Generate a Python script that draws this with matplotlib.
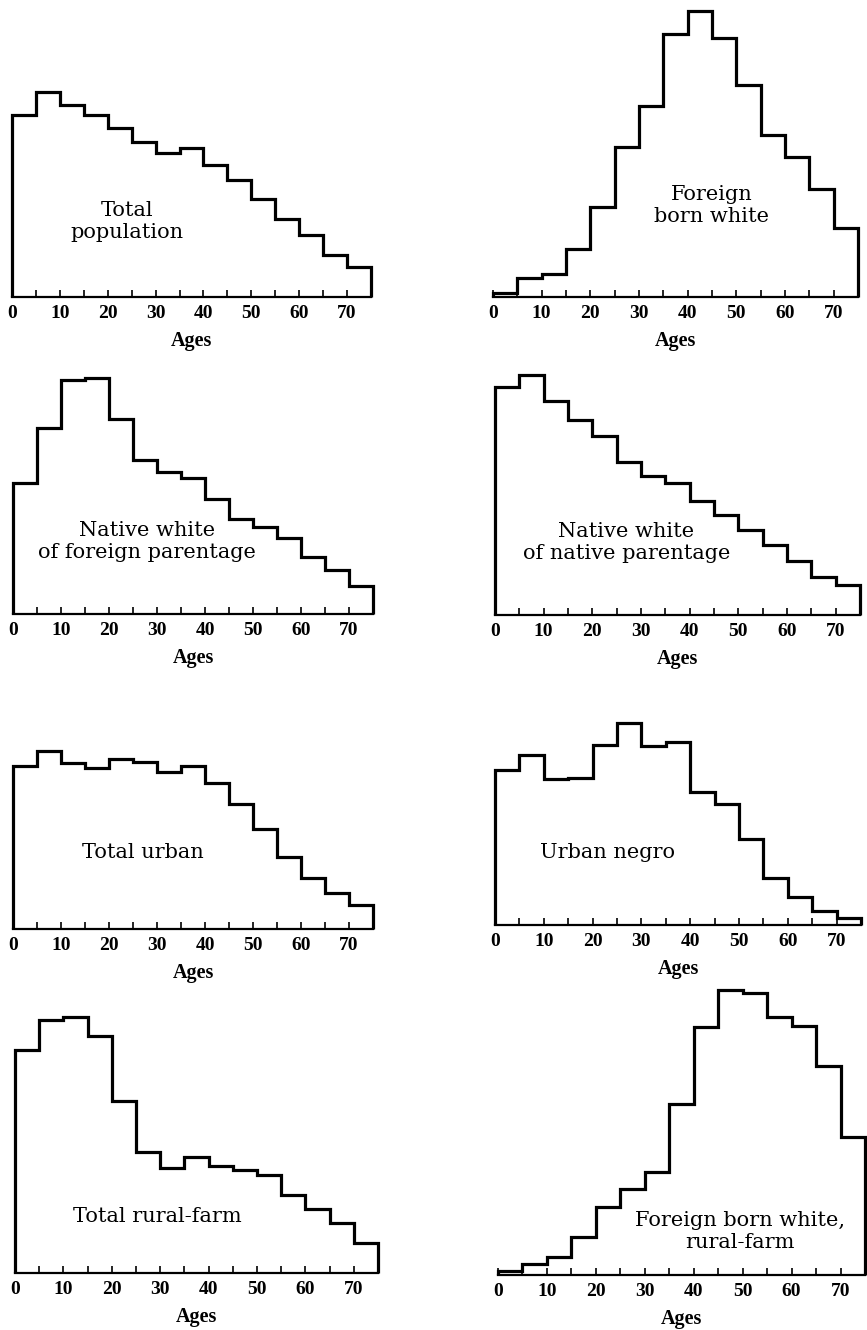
import numpy as np
import matplotlib
matplotlib.use("Agg")
import matplotlib.pyplot as plt

# age groups (5-year classes), relative heights
edges = np.arange(0, 80, 5)
tick_labels = ["0", "10", "20", "30", "40", "50", "60", "70"]

total_population = [182, 205, 192, 182, 169, 155, 144, 149, 132, 117, 98, 78, 62, 42, 30]
foreign_born_white = [4, 19, 23, 48, 90, 150, 191, 263, 286, 259, 212, 162, 140, 108, 69]
native_foreign_par = [131, 186, 234, 236, 195, 154, 142, 136, 115, 95, 87, 76, 57, 44, 28]
native_native_par = [228, 240, 214, 195, 179, 153, 139, 132, 114, 100, 85, 70, 54, 38, 30]
total_urban = [163, 178, 166, 161, 170, 167, 157, 163, 146, 125, 100, 72, 51, 36, 24]
urban_negro = [155, 170, 146, 147, 180, 202, 179, 183, 133, 121, 86, 47, 28, 14, 7]
total_rural_farm = [223, 253, 256, 237, 172, 121, 105, 116, 107, 103, 98, 78, 64, 50, 30]
foreign_rural_farm = [4, 11, 18, 38, 68, 86, 103, 171, 248, 285, 282, 258, 249, 209, 138]

names = ["Total\npopulation", "Foreign\nborn white",
         "Native white\nof foreign parentage", "Native white\nof native parentage",
         "Total urban", "Urban negro",
         "Total rural-farm", "Foreign born white,\nrural-farm"]
series = [total_population, foreign_born_white, native_foreign_par, native_native_par,
          total_urban, urban_negro, total_rural_farm, foreign_rural_farm]
label_pos = [(24, 75), (45, 92), (28, 72), (27, 72), (27, 76), (23, 72), (29.5, 56), (49.5, 43)]

W, H = 867, 1330
# panel frames in pixels: left, right, baseline, height
frames = [(12, 371, 297, 295), (493, 858, 297, 295),
          (13, 373, 614, 250), (495, 860, 615, 250),
          (13, 373, 929, 220), (495, 861, 925, 220),
          (15, 378, 1273, 295), (498, 865, 1275, 295)]

fig = plt.figure(figsize=(W / 100, H / 100), dpi=100)

for i in range(8):
    x0, x1, base, hgt = frames[i]
    ax = fig.add_axes([x0 / W, (H - base) / H, (x1 - x0) / W, hgt / H])
    ax.set_facecolor("none")
    ax.stairs(series[i], edges, baseline=0, color="black", lw=2.3, clip_on=False)
    ax.set_xlim(0, 75)
    ax.set_ylim(0, hgt)
    for s in ["left", "right", "top"]:
        ax.spines[s].set_visible(False)
    ax.spines["bottom"].set_linewidth(1.6)
    ax.set_yticks([])
    ax.set_xticks(edges)
    ax.set_xticklabels([str(e) if e % 10 == 0 and e < 75 else "" for e in edges],
                       family="Liberation Serif", fontweight="bold", fontsize=14)
    ax.tick_params(axis="x", direction="in", length=5, width=1.2, pad=6)
    ax.set_xlabel("Ages", family="Liberation Serif", fontweight="bold", fontsize=14.5,
                  labelpad=6)
    tx, ty = label_pos[i]
    ax.text(tx, ty, names[i], ha="center", va="center", family="DejaVu Serif",
            fontsize=15, linespacing=1.2)

fig.savefig("out.png", dpi=100)
